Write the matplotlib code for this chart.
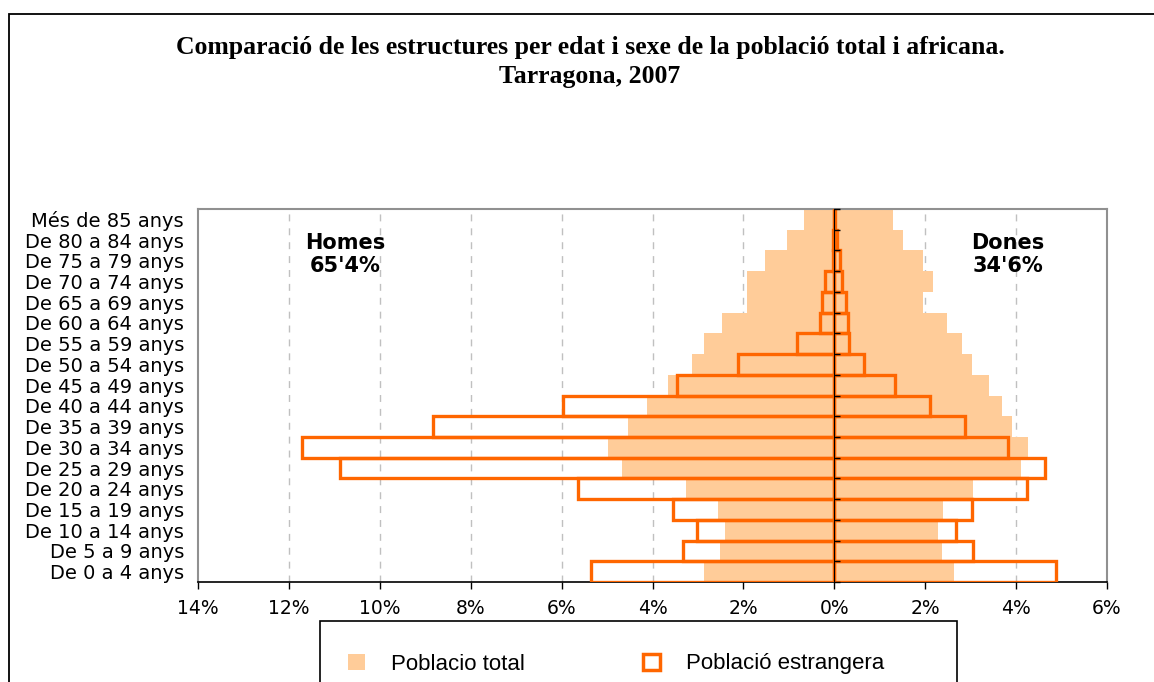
import matplotlib.pyplot as plt
from matplotlib.patches import Patch, Rectangle

# age groups, bottom to top
groups = ["De 0 a 4 anys", "De 5 a 9 anys", "De 10 a 14 anys", "De 15 a 19 anys",
          "De 20 a 24 anys", "De 25 a 29 anys", "De 30 a 34 anys", "De 35 a 39 anys",
          "De 40 a 44 anys", "De 45 a 49 anys", "De 50 a 54 anys", "De 55 a 59 anys",
          "De 60 a 64 anys", "De 65 a 69 anys", "De 70 a 74 anys", "De 75 a 79 anys",
          "De 80 a 84 anys", "Més de 85 anys"]

# % of population (men shown on the left)
total_men = [2.86, 2.51, 2.40, 2.56, 3.26, 4.67, 4.98, 4.54, 4.12, 3.66,
             3.13, 2.86, 2.47, 1.92, 1.92, 1.52, 1.04, 0.66]
total_women = [2.64, 2.38, 2.29, 2.40, 3.06, 4.10, 4.27, 3.90, 3.70, 3.41,
               3.04, 2.82, 2.49, 1.96, 2.18, 1.96, 1.52, 1.30]
foreign_men = [5.35, 3.33, 3.02, 3.55, 5.64, 10.88, 11.72, 8.83, 5.97, 3.47,
               2.12, 0.82, 0.32, 0.27, 0.20, 0.03, 0.02, 0.0]
foreign_women = [4.87, 3.06, 2.67, 3.02, 4.24, 4.63, 3.83, 2.87, 2.11, 1.34,
                 0.66, 0.33, 0.30, 0.26, 0.17, 0.13, 0.05, 0.02]

xticks = [-14, -12, -10, -8, -6, -4, -2, 0, 2, 4, 6]

fill_col = '#FFCC99'
line_col = '#FF6600'

W, H = 1154, 682
fig = plt.figure(figsize=(W / 100, H / 100), dpi=100)
ax = fig.add_axes([198 / W, 1 - 582 / H, (1107 - 198) / W, (582 - 209) / H])

y = list(range(len(groups)))
ax.barh(y, [-v for v in total_men], height=1.0, color=fill_col, zorder=2)
ax.barh(y, total_women, height=1.0, color=fill_col, zorder=2)
ax.barh(y, [-v for v in foreign_men], height=1.0, facecolor='none',
        edgecolor=line_col, linewidth=2.4, zorder=3)
ax.barh(y, foreign_women, height=1.0, facecolor='none',
        edgecolor=line_col, linewidth=2.4, zorder=3)

ax.set_xlim(-14, 6)
ax.set_ylim(-0.5, len(groups) - 0.5)

ax.set_xticks(xticks)
ax.set_xticklabels([f"{abs(v)}%" for v in xticks], fontsize=13.5)
ax.tick_params(axis='x', direction='out', length=5, width=1, pad=7, colors='black')
ax.set_yticks(y)
ax.set_yticklabels(groups, fontsize=14)
ax.tick_params(axis='y', length=0, pad=10)

for v in xticks:
    if v not in (-14, 0, 6):
        ax.axvline(v, color='#C0C0C0', linestyle=(0, (5, 5)), linewidth=1, zorder=1)

for s in ['left', 'top', 'right']:
    ax.spines[s].set_color('#909090')
    ax.spines[s].set_linewidth(1.5)
ax.spines['bottom'].set_color('black')
ax.spines['bottom'].set_linewidth(1.2)

# central axis at 0 with small ticks between age groups
sec = ax.secondary_yaxis(14 / 20)
sec.set_yticks([i - 0.5 for i in range(len(groups) + 1)])
sec.set_yticklabels([])
sec.tick_params(direction='out', length=4, width=1, colors='black')
sec.spines['left'].set_color('black')
sec.spines['left'].set_linewidth(1.4)
sec.set_zorder(4)

ax.text(-10.77, 15.3, "Homes\n65'4%", ha='center', va='center',
        fontsize=15, fontweight='bold', linespacing=1.2)
ax.text(3.81, 15.3, "Dones\n34'6%", ha='center', va='center',
        fontsize=15, fontweight='bold', linespacing=1.2)

fig.text(590 / W, 1 - 62 / H,
         "Comparació de les estructures per edat i sexe de la població total i africana.\nTarragona, 2007",
         ha='center', va='center', fontsize=18.5, fontweight='bold',
         family='Liberation Serif', linespacing=1.3)

# outer chart border
fig.patches.append(Rectangle((9 / W, -0.1), 1.2, 1 - 14 / H + 0.1, transform=fig.transFigure,
                             fill=False, edgecolor='black', linewidth=1.3))
# legend box (cut at the bottom edge)
fig.patches.append(Rectangle((320 / W, -0.1), (957 - 320) / W, 1 - 621 / H + 0.1,
                             transform=fig.transFigure, fill=False,
                             edgecolor='black', linewidth=1.2))

handles = [Patch(facecolor=fill_col, edgecolor='none', label='Poblacio total'),
           Patch(facecolor='white', edgecolor=line_col, linewidth=2.5,
                 label='Població estrangera')]
fig.legend(handles=handles, loc='center left', bbox_to_anchor=(337 / W, 1 - 664 / H),
           ncol=2, frameon=False, borderpad=0, handlelength=0.75, handleheight=0.75,
           handletextpad=1.2, columnspacing=5.3,
           prop={'family': 'Liberation Sans', 'size': 16})

fig.savefig('out.png', dpi=100)
